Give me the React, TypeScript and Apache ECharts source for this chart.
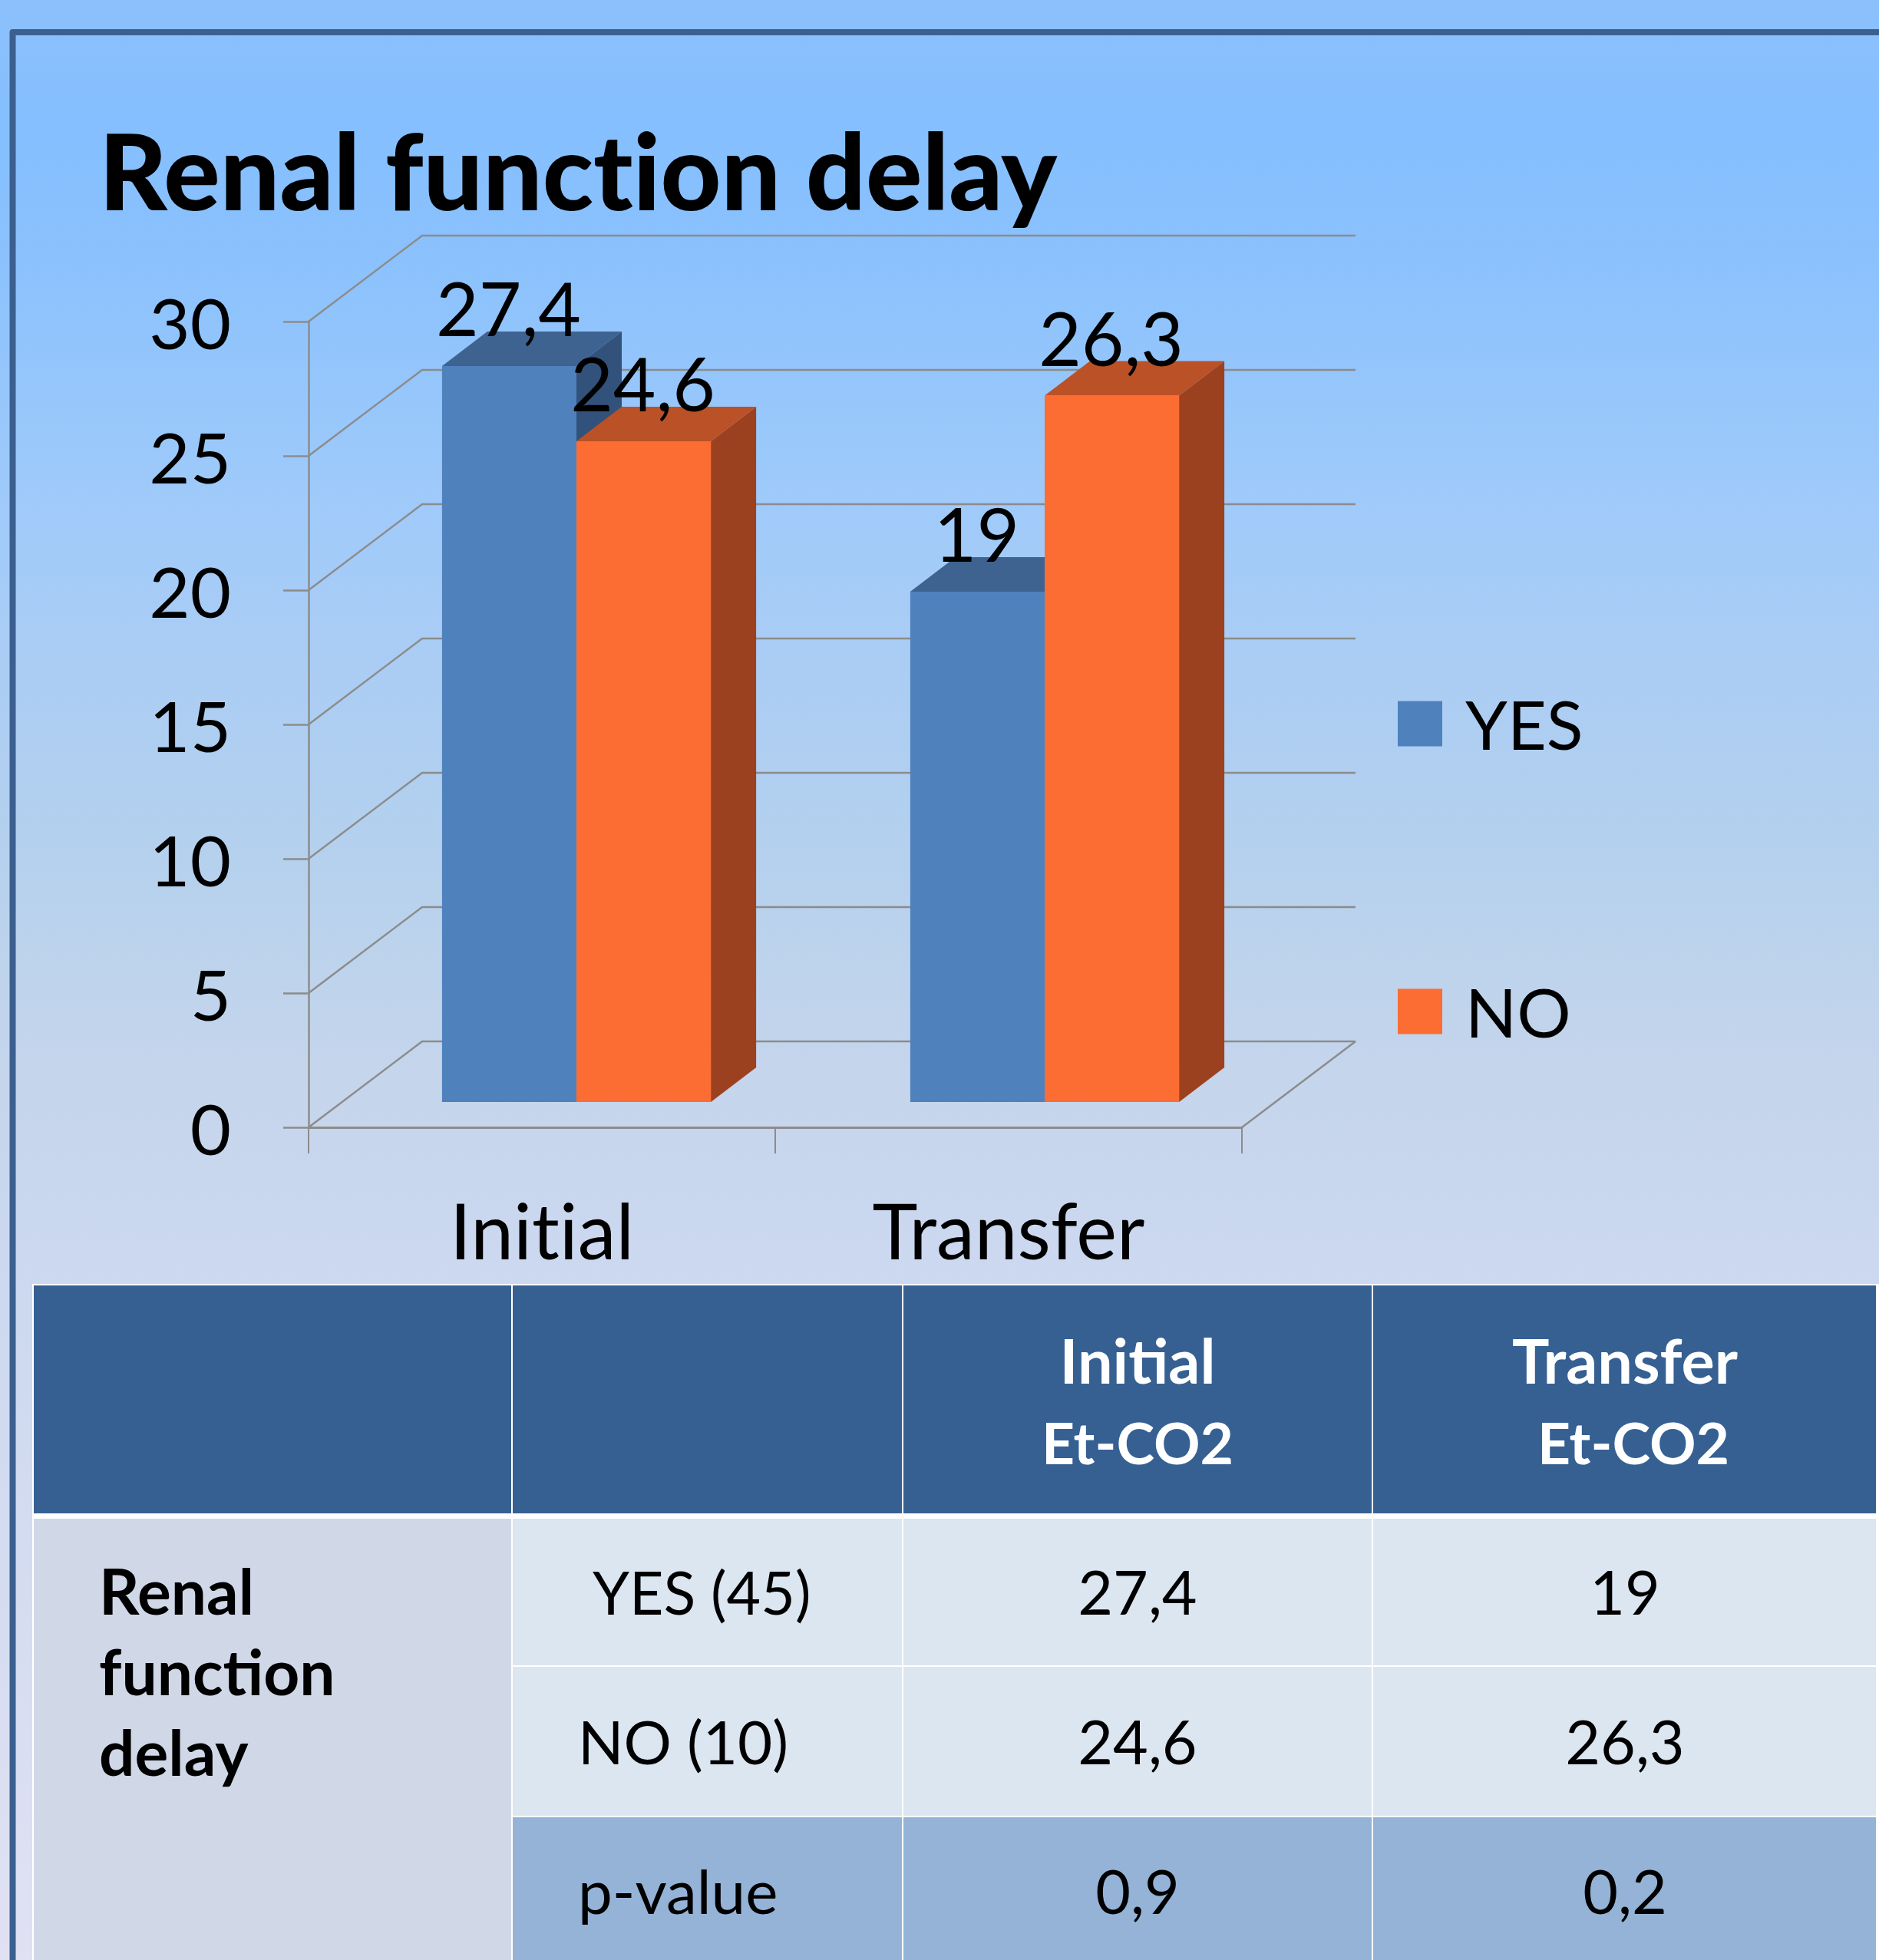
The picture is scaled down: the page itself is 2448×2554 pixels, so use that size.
import React, { useEffect, useRef } from "react";
import * as echarts from "echarts";

const categories = ["Initial", "Transfer"];
const yesValues = [27.4, 19];
const noValues = [24.6, 26.3];
const yesLabels = ["27,4", "19"];
const noLabels = ["24,6", "26,3"];
const yTicks = [0, 5, 10, 15, 20, 25, 30];
const titleText = "Renal function delay";

const tableColumns = [44, 668, 1177, 1789, 2446];
const tableRows = [1675, 1979, 2172, 2368, 2554];
const headerCol3 = ["Initial", "Et-CO2"];
const headerCol4 = ["Transfer", "Et-CO2"];
const rowGroup = ["Renal", "function", "delay"];
const rowNames = ["YES (45)", "NO (10)", "p-value"];
const rowInitial = ["27,4", "24,6", "0,9"];
const rowTransfer = ["19", "26,3", "0,2"];

const FONT = "Lato";
const LINE = "#8c8c8c";
const WALL_DX = 148;
const WALL_DY = 112;
const BAR_IN_X = 45;
const BAR_IN_Y = 33;
const BAR_DX = 59;
const BAR_DY = 45;
const BAR_BAND = 0.288;
const BAR_NUDGE = [0, 2];
const BASE_SHIFT = 0.387;
const LABEL_SIZE = 96;

const renderWall = (params: any, api: any) => {
  const cs = params.coordSys;
  const y = api.coord([0, api.value(1)])[1];
  const x0 = cs.x;
  const x1 = cs.x + cs.width;
  const children: any[] = [
    {
      type: "polyline",
      shape: { points: [[x0, y], [x0 + WALL_DX, y - WALL_DY], [x1 + WALL_DX, y - WALL_DY]] },
      style: { stroke: LINE, lineWidth: 2.5, fill: "none" },
    },
  ];
  if (api.value(1) === 0) {
    children.push({
      type: "line",
      shape: { x1: x1, y1: y, x2: x1 + WALL_DX, y2: y - WALL_DY },
      style: { stroke: LINE, lineWidth: 2.5 },
    });
  }
  return { type: "group", children };
};

const makeBar = (side: number, labels: string[], front: string, top: string, right: string) => (_p: any, api: any) => {
  const idx = api.value(0);
  const c = api.coord([idx, api.value(1)]);
  const b = api.coord([idx, 0]);
  const w = api.size([1, 0])[0] * BAR_BAND;
  const xL = c[0] + BAR_IN_X + BAR_NUDGE[idx] + (side < 0 ? -w : 0);
  const xR = xL + w;
  const yT = c[1] - BAR_IN_Y;
  const yB = b[1] - BAR_IN_Y;
  return {
    type: "group",
    children: [
      { type: "polygon", shape: { points: [[xR, yT], [xR + BAR_DX, yT - BAR_DY], [xR + BAR_DX, yB - BAR_DY], [xR, yB]] }, style: { fill: right } },
      { type: "polygon", shape: { points: [[xL, yT], [xL + BAR_DX, yT - BAR_DY], [xR + BAR_DX, yT - BAR_DY], [xR, yT]] }, style: { fill: top } },
      { type: "rect", shape: { x: xL, y: yT, width: w, height: yB - yT }, style: { fill: front } },
      {
        type: "text",
        style: {
          text: labels[idx],
          x: (xL + xR) / 2 - 1,
          y: yT - 39 - LABEL_SIZE * BASE_SHIFT,
          align: "center",
          verticalAlign: "middle",
          fill: "#000",
          font: `${LABEL_SIZE}px ${FONT}`,
        },
      },
    ],
  };
};

const txt = (text: string, x: number, baseline: number, size: number, bold: boolean, fill: string, align = "left") => ({
  type: "text",
  z: 5,
  style: {
    text,
    x,
    y: baseline - size * BASE_SHIFT,
    align,
    verticalAlign: "middle",
    fill,
    font: `${bold ? "bold " : ""}${size}px ${FONT}`,
  },
});

const cell = (x0: number, y0: number, x1: number, y1: number, fill: string) => ({
  type: "rect",
  z: 4,
  shape: { x: x0, y: y0, width: x1 - x0, height: y1 - y0 },
  style: { fill },
});

function buildTable() {
  const c = tableColumns;
  const r = tableRows;
  const HEADER = "#366092";
  const GROUP = "#d0d8e8";
  const LIGHT = "#dce6f1";
  const MID = "#95b3d7";
  const rowFill = [LIGHT, LIGHT, MID];
  const els: any[] = [cell(c[0] - 2, r[0] - 2, c[4] + 2, r[4], "#ffffff")];
  for (let i = 0; i < 4; i++) els.push(cell(c[i], r[0], c[i + 1] - 2, r[1] - 7, HEADER));
  els.push(cell(c[0], r[1], c[1] - 2, r[4], GROUP));
  for (let j = 0; j < 3; j++) {
    const top = r[j + 1];
    const bottom = j === 2 ? r[4] : r[j + 2] - 2;
    for (let i = 1; i < 4; i++) els.push(cell(c[i], top, c[i + 1] - 2, bottom, rowFill[j]));
  }
  const baselines = [2104, 2299, 2494];
  const nameX = [772, 753, 753];
  const nameSize = [77, 78, 80];
  els.push(txt(headerCol3[0], 1482, 1803, 81, true, "#fff", "center"));
  els.push(txt(headerCol3[1], 1482, 1908, 75, true, "#fff", "center"));
  els.push(txt(headerCol4[0], 2117, 1803, 81, true, "#fff", "center"));
  els.push(txt(headerCol4[1], 2128, 1908, 75, true, "#fff", "center"));
  rowGroup.forEach((t, i) => els.push(txt(t, 129, [2104, 2209, 2314][i], 82, true, "#000")));
  rowNames.forEach((t, i) => els.push(txt(t, nameX[i], baselines[i], nameSize[i], false, "#000")));
  rowInitial.forEach((t, i) => els.push(txt(t, 1482, baselines[i], 79, false, "#000", "center")));
  rowTransfer.forEach((t, i) => els.push(txt(t, 2117, baselines[i], 79, false, "#000", "center")));
  return els;
}

export default function App() {
  const ref = useRef<HTMLDivElement>(null);
  useEffect(() => {
    const chart = echarts.init(ref.current!, null, { renderer: "svg" });
    chart.setOption({
      animation: false,
      backgroundColor: {
        type: "linear",
        x: 0,
        y: 0,
        x2: 0,
        y2: 1,
        colorStops: [
          { offset: 0, color: "#8bc0fb" },
          { offset: 0.064, color: "#85bfff" },
          { offset: 0.127, color: "#8ac1fd" },
          { offset: 0.255, color: "#9fcafa" },
          { offset: 0.34, color: "#abcdf4" },
          { offset: 0.425, color: "#b3d0ee" },
          { offset: 0.488, color: "#bdd3ec" },
          { offset: 0.552, color: "#c5d5ec" },
          { offset: 0.637, color: "#cbd8ef" },
          { offset: 1, color: "#e0e1f3" },
        ],
      },
      title: {
        text: titleText,
        left: 124,
        top: 147,
        textStyle: { fontFamily: FONT, fontSize: 137, fontWeight: 900, color: "#000" },
      },
      grid: { left: 402, right: 2448 - 1618, top: 419, bottom: 2554 - 1469, containLabel: false },
      xAxis: {
        type: "category",
        data: categories,
        axisLine: { show: true, lineStyle: { color: LINE, width: 3 } },
        axisTick: { show: true, length: 34, alignWithLabel: false, lineStyle: { color: LINE, width: 2 } },
        axisLabel: { fontFamily: FONT, fontSize: 100, color: "#000", margin: 83, interval: 0 },
        splitLine: { show: false },
      },
      yAxis: {
        type: "value",
        min: 0,
        max: 30,
        interval: 5,
        axisLine: { show: true, lineStyle: { color: LINE, width: 2.5 } },
        axisTick: { show: true, length: 33, lineStyle: { color: LINE, width: 2.5 } },
        axisLabel: { fontFamily: FONT, fontSize: 92, color: "#000", margin: 101 },
        splitLine: { show: false },
      },
      legend: {
        orient: "vertical",
        left: 1821,
        top: 899,
        padding: 0,
        icon: "rect",
        itemWidth: 58,
        itemHeight: 59,
        itemGap: 287,
        data: [
          { name: "YES", itemStyle: { color: "#4f81bd" } },
          { name: "NO", itemStyle: { color: "#fb6d33" } },
        ],
        textStyle: { fontFamily: FONT, fontSize: 88, color: "#000", padding: [0, 0, 4, 25] },
      },
      series: [
        {
          type: "custom",
          name: "walls",
          z: 1,
          clip: false,
          silent: true,
          renderItem: renderWall,
          data: yTicks.map((v) => [0, v]),
          encode: { x: 0, y: 1 },
        },
        {
          type: "custom",
          name: "YES",
          z: 2,
          clip: false,
          itemStyle: { color: "#4f81bd" },
          renderItem: makeBar(-1, yesLabels, "#4f81bd", "#3e6391", "#32527c"),
          data: yesValues.map((v, i) => [i, v]),
          encode: { x: 0, y: 1 },
        },
        {
          type: "custom",
          name: "NO",
          z: 3,
          clip: false,
          itemStyle: { color: "#fb6d33" },
          renderItem: makeBar(1, noLabels, "#fb6d33", "#bb5126", "#9c411f"),
          data: noValues.map((v, i) => [i, v]),
          encode: { x: 0, y: 1 },
        },
      ],
      graphic: [
        {
          type: "polyline",
          z: 6,
          shape: { points: [[16.5, 2560], [16.5, 42], [2460, 42]] },
          style: { stroke: "#3b6090", lineWidth: 8, fill: "none", lineJoin: "round" },
        },
        ...buildTable(),
      ],
    });
    return () => chart.dispose();
  }, []);
  return (
    <div
      ref={ref}
      style={{ position: "absolute", left: 0, top: 0, width: 2448, height: 2554, fontVariantLigatures: "none" }}
    />
  );
}
